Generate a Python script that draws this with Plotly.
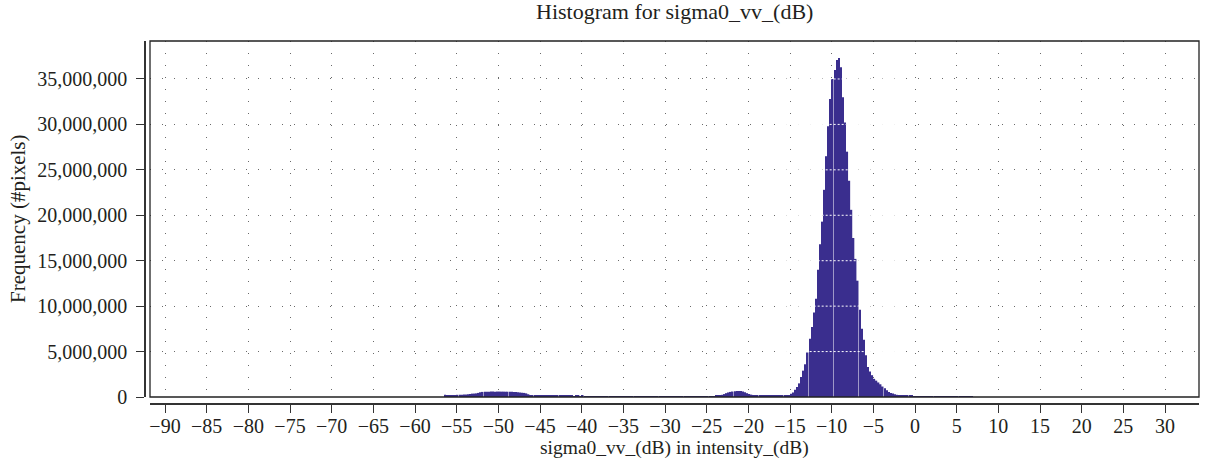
import plotly.graph_objects as go

# ---------------- data ----------------
bin_start = -56.5      # dB, left edge of first bin
bin_width = 0.25       # dB

# counts in millions of pixels, consecutive bins of 0.25 dB
counts_low_bump = [0.25, 0.20, 0.15, 0.15, 0.16, 0.18, 0.24, 0.25, 0.26, 0.27,
                   0.28, 0.30, 0.34, 0.37, 0.38, 0.40, 0.45, 0.52, 0.56, 0.58,
                   0.58, 0.59, 0.60, 0.60, 0.59, 0.60, 0.60, 0.59, 0.59, 0.58,
                   0.58, 0.57, 0.57, 0.56, 0.55, 0.53, 0.50, 0.47, 0.45, 0.40]
counts_plateau = [0.30, 0.22, 0.17, 0.15, 0.14, 0.14, 0.13, 0.14, 0.13, 0.13,
                  0.13, 0.13, 0.12, 0.13, 0.12, 0.12, 0.13, 0.12, 0.12, 0.12,
                  0.12, 0.12, 0.11, 0.12, 0.12, 0.11, 0.12, 0.11, 0.11, 0.11,
                  0.11, 0.11, 0.11, 0.10, 0.11, 0.11, 0.10, 0.11, 0.10, 0.10,
                  0.10, 0.10, 0.10, 0.09, 0.10, 0.10, 0.10, 0.09, 0.10, 0.10,
                  0.10, 0.09, 0.10, 0.10, 0.09, 0.10, 0.10, 0.10, 0.09, 0.10,
                  0.10, 0.10, 0.10, 0.09, 0.10, 0.10, 0.10, 0.10, 0.10, 0.10,
                  0.10, 0.10, 0.10, 0.10, 0.10, 0.10, 0.10, 0.10, 0.11, 0.11,
                  0.11, 0.11, 0.11, 0.11, 0.11, 0.11, 0.11, 0.11, 0.11, 0.11]
counts_mid_bump = [0.12, 0.14, 0.18, 0.24, 0.32, 0.42, 0.50, 0.56, 0.60, 0.64,
                   0.66, 0.66, 0.65, 0.60, 0.52, 0.42, 0.33, 0.26, 0.21, 0.18]
counts_shoulder = [0.16, 0.15, 0.15, 0.15, 0.15, 0.15, 0.15, 0.15,
                   0.15, 0.15, 0.16, 0.16, 0.17, 0.18, 0.20, 0.22]
counts_peak = [0.35, 0.50, 0.80, 1.10, 1.50, 2.20, 2.90, 3.60, 4.90, 6.40,
               7.70, 9.30, 10.8, 14.0, 16.8, 19.3, 22.8, 26.5, 29.8, 32.8,
               35.0, 36.0, 37.1, 37.3, 36.3, 33.0, 30.2, 27.0, 23.8, 20.6,
               17.5, 15.2, 12.8, 9.60, 7.50, 6.30, 4.60, 3.30, 2.80, 2.40,
               2.00, 1.80, 1.60, 1.40, 1.15, 0.95, 0.75, 0.55, 0.45, 0.38,
               0.30, 0.24]
counts_tail = [0.20, 0.18, 0.16, 0.14, 0.13, 0.12, 0.12, 0.11, 0.11, 0.10,
               0.10, 0.10, 0.10, 0.10, 0.10, 0.10, 0.10, 0.10, 0.10, 0.10,
               0.10, 0.10, 0.09, 0.09, 0.09, 0.09, 0.09, 0.09, 0.09, 0.09,
               0.08, 0.08, 0.08, 0.08, 0.08, 0.08]

x_ticks = list(range(-90, 31, 5))
y_ticks = list(range(0, 35_000_001, 5_000_000))

title_text = "Histogram for sigma0_vv_(dB)"
x_title = "sigma0_vv_(dB) in intensity_(dB)"
y_title = "Frequency (#pixels)"

# ---------------- build ----------------
counts_m = (counts_low_bump + counts_plateau + counts_mid_bump
            + counts_shoulder + counts_peak + counts_tail)
counts = [c * 1e6 for c in counts_m]
centers = [bin_start + bin_width * (i + 0.5) for i in range(len(counts))]

FONT = "Liberation Serif"
TXT = "#231f20"

W, H = 1208, 466
ml, mr, mt, mb = 145, 9, 41, 62
pw = W - ml - mr
ph = H - mt - mb
x_off = 5 / pw
y_off = 7 / ph

fig = go.Figure()
fig.add_trace(go.Bar(
    x=centers, y=counts,
    marker=dict(color="#3a2e8e", line=dict(width=0)),
    hoverinfo="x+y",
))

grid = dict(showgrid=True, gridcolor="#6a6a6a", gridwidth=1, griddash="1px,11px")

# white dashed grid rows that show through the bars (as in the reference)
over_rows = [dict(type="line", xref="x", yref="y",
                  x0=-16, x1=-2, y0=v, y1=v, layer="above",
                  line=dict(color="white", width=1, dash="2px,2px"))
             for v in y_ticks[1:]]

fig.update_layout(
    width=W, height=H,
    margin=dict(l=ml, r=mr, t=mt, b=mb, autoexpand=False),
    paper_bgcolor="white", plot_bgcolor="white",
    bargap=0.25,
    showlegend=False,
    font=dict(family=FONT, color=TXT, size=20),
    xaxis=dict(
        domain=[x_off, 1], range=[-91.8, 34.08],
        anchor="free", position=0, automargin=False,
        tickmode="array", tickvals=x_ticks,
        ticktext=[("\u2212" + str(-v)) if v < 0 else str(v) for v in x_ticks],
        ticks="outside", ticklen=8, tickwidth=1.3, tickcolor="#333",
        showline=True, linecolor="#333", linewidth=1.5,
        zeroline=False,
        tickfont=dict(size=20),
        ticklabelstandoff=-4,
        **grid,
    ),
    yaxis=dict(
        domain=[y_off, 1], range=[0, 39.18e6],
        anchor="free", position=0, automargin=False,
        tickmode="array", tickvals=y_ticks,
        tickformat=",d",
        ticks="outside", ticklen=8, tickwidth=1.3, tickcolor="#333",
        showline=True, linecolor="#333", linewidth=1.5,
        zeroline=False,
        tickfont=dict(size=20),
        ticklabelstandoff=5,
        **grid,
    ),
    shapes=over_rows + [dict(type="rect", xref="paper", yref="paper",
                             x0=x_off, x1=1, y0=y_off, y1=1,
                             line=dict(color="#222", width=1.3), layer="above")],
    annotations=[
        dict(text=title_text, xref="paper", yref="paper",
             x=(x_off + 1) / 2, y=1 + 29 / ph, xanchor="center", yanchor="middle",
             showarrow=False, font=dict(size=22)),
        dict(text=x_title, xref="paper", yref="paper",
             x=(x_off + 1) / 2, y=-44 / ph, xanchor="center", yanchor="middle",
             showarrow=False, font=dict(size=19.5)),
        dict(text=y_title, xref="paper", yref="paper", textangle=-90,
             x=-127 / pw, y=(y_off + 1) / 2, xanchor="center", yanchor="middle",
             showarrow=False, font=dict(size=21)),
    ],
)

fig.write_html(
    "out.html",
    config={"displayModeBar": False},
    post_script="document.body.style.margin='0';document.body.style.overflow='hidden';",
)
